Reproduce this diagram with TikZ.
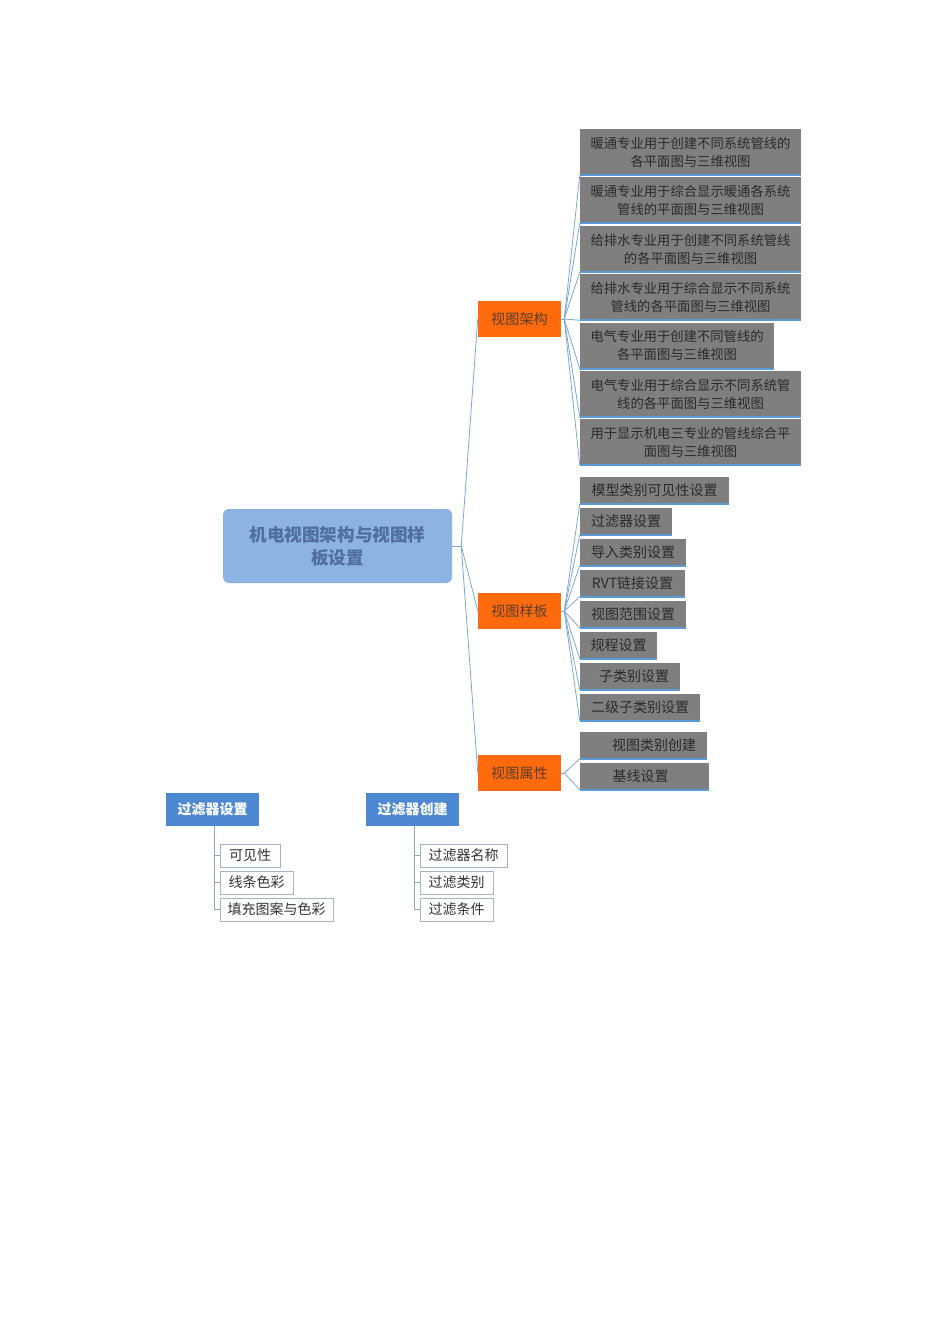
\documentclass[tikz,border=0pt]{standalone}
\usepackage{fontspec}
\newfontfamily\cjk{Noto Sans CJK SC}
\usetikzlibrary{calc}
\pgfdeclarelayer{paper}
\pgfdeclarelayer{background}
\pgfsetlayers{paper,background,main}
\definecolor{gfill}{HTML}{7F7F7F}
\definecolor{gtext}{HTML}{2A2A2A}
\definecolor{uline}{HTML}{5B9BD5}
\definecolor{conn}{HTML}{7FA6D2}
\definecolor{orng}{HTML}{FF6A0D}
\definecolor{otext}{HTML}{5A3E2B}
\definecolor{rootfill}{HTML}{8DB3E2}
\definecolor{roottext}{HTML}{4F6F9E}
\definecolor{hdrfill}{HTML}{4F88D2}
\definecolor{cborder}{HTML}{A6B4C4}
\definecolor{ctext}{HTML}{333333}
\definecolor{bconn}{HTML}{8FA9C8}
\tikzset{
  root/.style={fill=rootfill, text=roottext, rounded corners=4.5pt, inner sep=0pt,
    minimum width=229*0.75pt, minimum height=74*0.75pt, align=center,
    font=\cjk\fontsize{13.2pt}{17.25pt}\selectfont\bfseries},
  obox/.style={fill=orng, text=otext, inner sep=0pt, minimum width=83*0.75pt,
    minimum height=36*0.75pt, font=\cjk\fontsize{10.6pt}{12pt}\selectfont},
  bigbox/.style={fill=gfill, text=gtext, inner sep=0pt, align=center,
    minimum height=46*0.75pt, font=\cjk\fontsize{10pt}{13.5pt}\selectfont},
  smbox/.style={fill=gfill, text=gtext, inner sep=0pt, align=center,
    minimum height=27*0.75pt, font=\cjk\fontsize{10.5pt}{12pt}\selectfont},
  ul/.style={draw=uline, line width=1.6pt},
  cn/.style={draw=conn, line width=0.6pt},
  hdr/.style={fill=hdrfill, text=white, inner sep=0pt, minimum width=93*0.75pt,
    minimum height=33*0.75pt, font=\cjk\fontsize{10.5pt}{12pt}\selectfont\bfseries},
  cbox/.style={draw=cborder, line width=0.6pt, fill=white, text=ctext, inner sep=0pt,
    minimum height=23*0.75pt, font=\cjk\fontsize{10.5pt}{12pt}\selectfont},
  bcn/.style={draw=bconn, line width=0.7pt},
}
\begin{document}
\begin{tikzpicture}[x=0.75pt, y=-0.75pt]
\begin{pgfonlayer}{paper}
\path[use as bounding box, fill=white] (0,0) rectangle (950,1344);
\end{pgfonlayer}

% root and main branches
\node[root] (root) at (337.5,546) {机电视图架构与视图样\\板设置};
\node[obox] (arch) at (519.5,319) {视图架构};
\node[obox] (tmpl) at (519.5,611) {视图样板};
\node[obox] (prop) at (519.5,773) {视图属性};

% 视图架构 children
\node[bigbox, minimum width=221*0.75pt] (a1) at (690.5,152) {暖通专业用于创建不同系统管线的\\各平面图与三维视图};
\node[bigbox, minimum width=221*0.75pt] (a2) at (690.5,200) {暖通专业用于综合显示暖通各系统\\管线的平面图与三维视图};
\node[bigbox, minimum width=221*0.75pt] (a3) at (690.5,249) {给排水专业用于创建不同系统管线\\的各平面图与三维视图};
\node[bigbox, minimum width=221*0.75pt] (a4) at (690.5,297) {给排水专业用于综合显示不同系统\\管线的各平面图与三维视图};
\node[bigbox, minimum width=194*0.75pt] (a5) at (677,345.5) {电气专业用于创建不同管线的\\各平面图与三维视图};
\node[bigbox, minimum width=221*0.75pt] (a6) at (690.5,394) {电气专业用于综合显示不同系统管\\线的各平面图与三维视图};
\node[bigbox, minimum width=221*0.75pt] (a7) at (690.5,442) {用于显示机电三专业的管线综合平\\面图与三维视图};

% 视图样板 children
\node[smbox, minimum width=149*0.75pt] (t1) at (654.5,490) {模型类别可见性设置};
\node[smbox, minimum width=92*0.75pt] (t2) at (626,521) {过滤器设置};
\node[smbox, minimum width=106*0.75pt] (t3) at (633,552) {导入类别设置};
\node[smbox, minimum width=105*0.75pt] (t4) at (632.5,583) {RVT链接设置};
\node[smbox, minimum width=106*0.75pt] (t5) at (633,614) {视图范围设置};
\node[smbox, minimum width=77*0.75pt] (t6) at (618.5,645) {规程设置};
\node[smbox, minimum width=100*0.75pt] (t7) at (630,676) {\hspace*{6pt}子类别设置};
\node[smbox, minimum width=120*0.75pt] (t8) at (640,707) {二级子类别设置};

% 视图属性 children
\node[smbox, minimum width=127*0.75pt] (p1) at (643.5,745) {\hspace*{16pt}视图类别创建};
\node[smbox, minimum width=129*0.75pt] (p2) at (644.5,776) {\hspace*{-6pt}基线设置};

% underlines
\foreach \n in {a1,a2,a3,a4,a5,a6,a7,t1,t2,t3,t4,t5,t6,t7,t8,p1,p2}
  \draw[ul] (\n.south west) -- (\n.south east);

% connectors
\begin{pgfonlayer}{background}
\draw[cn] (root.east) -- ++(9,0) coordinate (rj);
\foreach \o in {arch,tmpl,prop} \draw[cn] (rj) -- (\o.west);
\draw[cn] (arch.east) -- ++(3,0) coordinate (aj);
\foreach \n in {a1,a2,a3,a4,a5,a6,a7} \draw[cn] (aj) -- (\n.south west);
\draw[cn] (tmpl.east) -- ++(3,0) coordinate (tj);
\foreach \n in {t1,t2,t3,t4,t5,t6,t7,t8} \draw[cn] (tj) -- (\n.south west);
\draw[cn] (prop.east) -- ++(3,0) coordinate (pj);
\foreach \n in {p1,p2} \draw[cn] (pj) -- (\n.south west);
\end{pgfonlayer}

% bottom: 过滤器设置
\node[hdr] (h1) at (212.5,809.5) {过滤器设置};
\node[cbox, minimum width=60*0.75pt] (c1) at (250,855.5) {可见性};
\node[cbox, minimum width=73*0.75pt] (c2) at (256.5,882.5) {线条色彩};
\node[cbox, minimum width=113*0.75pt] (c3) at (276.5,909.5) {填充图案与色彩};

% bottom: 过滤器创建
\node[hdr] (h2) at (412.5,809.5) {过滤器创建};
\node[cbox, minimum width=87*0.75pt] (d1) at (463.5,855.5) {过滤器名称};
\node[cbox, minimum width=73*0.75pt] (d2) at (456.5,882.5) {过滤类别};
\node[cbox, minimum width=73*0.75pt] (d3) at (456.5,909.5) {过滤条件};

\begin{pgfonlayer}{background}
\coordinate (h1s) at ($(h1.south)+(1.5,0)$);
\coordinate (h2s) at ($(h2.south)+(1.5,0)$);
\foreach \c in {c1,c2,c3} \draw[bcn] (h1s) |- (\c.west);
\foreach \c in {d1,d2,d3} \draw[bcn] (h2s) |- (\c.west);
\end{pgfonlayer}
\end{tikzpicture}
\end{document}
